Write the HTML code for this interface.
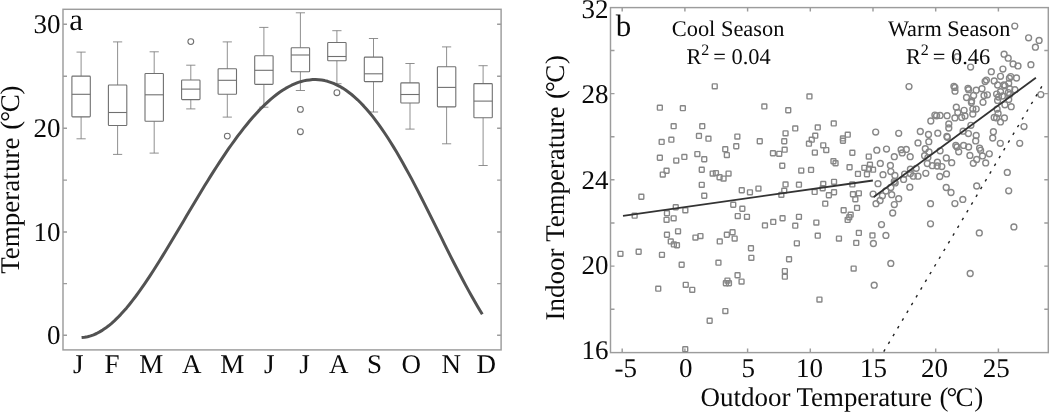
<!DOCTYPE html>
<html><head><meta charset="utf-8"><title>chart</title><style>html,body{margin:0;padding:0;background:#fff}svg{display:block}text{font-family:"Liberation Serif",serif;fill:#0a0a0a;text-rendering:geometricPrecision}svg{will-change:transform}</style></head><body>
<svg width="1050" height="412" viewBox="0 0 1050 412">
<rect width="1050" height="412" fill="#fff"/>
<g fill="none" stroke="#9c9c9c" stroke-width="1.45">
<rect x="63.0" y="9.3" width="438.1" height="340.6"/>
<path d="M63.0 24.15h4M501.1 24.15h-4"/>
<path d="M63.0 76.2h4M501.1 76.2h-4"/>
<path d="M63.0 128.2h4M501.1 128.2h-4"/>
<path d="M63.0 180.1h4M501.1 180.1h-4"/>
<path d="M63.0 232.05h4M501.1 232.05h-4"/>
<path d="M63.0 283.6h4M501.1 283.6h-4"/>
<path d="M63.0 335.3h4M501.1 335.3h-4"/>
</g>
<g fill="none" stroke="#707070" stroke-width="1.1">
<path d="M76.5 52.1h9.2M81.1 52.1V76.1M81.1 116.9V138.8M76.5 138.8h9.2" stroke-width="0.85" stroke="#7c7c7c"/>
<rect x="71.9" y="76.1" width="18.4" height="40.8" rx="0.8"/>
<path d="M71.9 94.3h18.4"/>
<path d="M113.0 41.9h9.2M117.6 41.9V85.0M117.6 125.5V154.4M113.0 154.4h9.2" stroke-width="0.85" stroke="#7c7c7c"/>
<rect x="108.4" y="85.0" width="18.4" height="40.5" rx="0.8"/>
<path d="M108.4 112.5h18.4"/>
<path d="M149.6 51.8h9.2M154.2 51.8V73.5M154.2 121.3V153.1M149.6 153.1h9.2" stroke-width="0.85" stroke="#7c7c7c"/>
<rect x="145.0" y="73.5" width="18.4" height="47.8" rx="0.8"/>
<path d="M145.0 94.8h18.4"/>
<path d="M186.2 65.2h9.2M190.8 65.2V80.0M190.8 99.6V108.9M186.2 108.9h9.2" stroke-width="0.85" stroke="#7c7c7c"/>
<rect x="181.6" y="80.0" width="18.4" height="19.6" rx="0.8"/>
<path d="M181.6 89.1h18.4"/>
<circle cx="190.8" cy="41.6" r="2.9"/>
<path d="M222.7 41.9h9.2M227.3 41.9V68.8M227.3 94.2V117.1M222.7 117.1h9.2" stroke-width="0.85" stroke="#7c7c7c"/>
<rect x="218.1" y="68.8" width="18.4" height="25.4" rx="0.8"/>
<path d="M218.1 80.3h18.4"/>
<circle cx="227.3" cy="136.1" r="2.9"/>
<path d="M259.2 27.4h9.2M263.9 27.4V55.7M263.9 84.4V107.2M259.2 107.2h9.2" stroke-width="0.85" stroke="#7c7c7c"/>
<rect x="254.7" y="55.7" width="18.4" height="28.7" rx="0.8"/>
<path d="M254.7 70.3h18.4"/>
<path d="M295.8 12.8h9.2M300.4 12.8V47.7M300.4 71.7V90.5M295.8 90.5h9.2" stroke-width="0.85" stroke="#7c7c7c"/>
<rect x="291.2" y="47.7" width="18.4" height="24.0" rx="0.8"/>
<path d="M291.2 55.0h18.4"/>
<circle cx="300.4" cy="109.4" r="2.9"/>
<circle cx="300.4" cy="131.7" r="2.9"/>
<path d="M332.3 30.7h9.2M336.9 30.7V42.5M336.9 60.8V83.7M332.3 83.7h9.2" stroke-width="0.85" stroke="#7c7c7c"/>
<rect x="327.7" y="42.5" width="18.4" height="18.3" rx="0.8"/>
<path d="M327.7 56.5h18.4"/>
<circle cx="336.9" cy="92.7" r="2.9"/>
<path d="M368.9 38.5h9.2M373.5 38.5V57.1M373.5 81.6V112.0M368.9 112.0h9.2" stroke-width="0.85" stroke="#7c7c7c"/>
<rect x="364.3" y="57.1" width="18.4" height="24.5" rx="0.8"/>
<path d="M364.3 73.8h18.4"/>
<path d="M405.4 63.5h9.2M410.0 63.5V82.9M410.0 103.0V129.1M405.4 129.1h9.2" stroke-width="0.85" stroke="#7c7c7c"/>
<rect x="400.8" y="82.9" width="18.4" height="20.1" rx="0.8"/>
<path d="M400.8 94.5h18.4"/>
<path d="M442.0 46.9h9.2M446.6 46.9V66.7M446.6 106.9V143.8M442.0 143.8h9.2" stroke-width="0.85" stroke="#7c7c7c"/>
<rect x="437.4" y="66.7" width="18.4" height="40.2" rx="0.8"/>
<path d="M437.4 87.4h18.4"/>
<path d="M478.5 65.7h9.2M483.1 65.7V83.6M483.1 117.8V165.5M478.5 165.5h9.2" stroke-width="0.85" stroke="#7c7c7c"/>
<rect x="473.9" y="83.6" width="18.4" height="34.2" rx="0.8"/>
<path d="M473.9 101.1h18.4"/>
</g>
<path d="M81.6 337.5 L84.6 337.2 L87.6 336.7 L90.6 335.9 L93.6 334.8 L96.6 333.5 L99.6 331.9 L102.6 330.1 L105.6 328.1 L108.6 325.8 L111.6 323.3 L114.6 320.6 L117.6 317.7 L120.6 314.6 L123.6 311.3 L126.6 307.9 L129.6 304.2 L132.6 300.4 L135.6 296.5 L138.6 292.4 L141.6 288.2 L144.6 283.9 L147.6 279.4 L150.6 274.9 L153.6 270.3 L156.6 265.5 L159.6 260.8 L162.6 255.9 L165.6 251.0 L168.6 246.0 L171.6 241.0 L174.6 236.0 L177.6 231.0 L180.6 225.9 L183.6 220.9 L186.6 215.8 L189.6 210.7 L192.6 205.7 L195.6 200.7 L198.6 195.7 L201.6 190.7 L204.6 185.8 L207.6 181.0 L210.6 176.1 L213.6 171.4 L216.6 166.7 L219.6 162.1 L222.6 157.6 L225.6 153.1 L228.6 148.7 L231.6 144.5 L234.6 140.3 L237.6 136.2 L240.6 132.3 L243.6 128.4 L246.6 124.7 L249.6 121.0 L252.6 117.5 L255.6 114.2 L258.6 110.9 L261.6 107.8 L264.6 104.9 L267.6 102.1 L270.6 99.4 L273.6 96.9 L276.6 94.5 L279.6 92.3 L282.6 90.3 L285.6 88.4 L288.6 86.8 L291.6 85.2 L294.6 83.9 L297.6 82.7 L300.6 81.7 L303.6 80.9 L306.6 80.3 L309.6 79.9 L312.6 79.6 L315.6 79.6 L318.6 79.7 L321.6 80.1 L324.6 80.6 L327.6 81.3 L330.6 82.3 L333.6 83.4 L336.6 84.8 L339.6 86.3 L342.6 88.1 L345.6 90.0 L348.6 92.2 L351.6 94.5 L354.6 97.1 L357.6 99.8 L360.6 102.8 L363.6 105.9 L366.6 109.2 L369.6 112.7 L372.6 116.4 L375.6 120.3 L378.6 124.4 L381.6 128.6 L384.6 133.0 L387.6 137.5 L390.6 142.2 L393.6 147.1 L396.6 152.1 L399.6 157.2 L402.6 162.5 L405.6 167.9 L408.6 173.4 L411.6 178.9 L414.6 184.6 L417.6 190.4 L420.6 196.2 L423.6 202.1 L426.6 208.1 L429.6 214.1 L432.6 220.1 L435.6 226.1 L438.6 232.2 L441.6 238.2 L444.6 244.3 L447.6 250.3 L450.6 256.3 L453.6 262.2 L456.6 268.0 L459.6 273.8 L462.6 279.5 L465.6 285.1 L468.6 290.6 L471.6 296.0 L474.6 301.3 L477.6 306.5 L480.6 311.5 L482.3 314.3" fill="none" stroke="#525252" stroke-width="3" stroke-linejoin="round"/>
<text x="60.6" y="33.0" font-size="27" text-anchor="end">30</text>
<text x="60.6" y="137.0" font-size="27" text-anchor="end">20</text>
<text x="60.6" y="240.8" font-size="27" text-anchor="end">10</text>
<text x="60.6" y="343.9" font-size="27" text-anchor="end">0</text>
<text x="78.2" y="372.9" font-size="27" text-anchor="middle">J</text>
<text x="112" y="372.9" font-size="27" text-anchor="middle">F</text>
<text x="151.2" y="372.9" font-size="27" text-anchor="middle">M</text>
<text x="191.8" y="372.9" font-size="27" text-anchor="middle">A</text>
<text x="232.3" y="372.9" font-size="27" text-anchor="middle">M</text>
<text x="269.2" y="372.9" font-size="27" text-anchor="middle">J</text>
<text x="304.5" y="372.9" font-size="27" text-anchor="middle">J</text>
<text x="338.8" y="372.9" font-size="27" text-anchor="middle">A</text>
<text x="374.6" y="372.9" font-size="27" text-anchor="middle">S</text>
<text x="411.2" y="372.9" font-size="27" text-anchor="middle">O</text>
<text x="451.2" y="372.9" font-size="27" text-anchor="middle">N</text>
<text x="486.2" y="372.9" font-size="27" text-anchor="middle">D</text>
<text x="69.3" y="29.7" font-size="31">a</text>
<g transform="translate(19.2 273.3) rotate(-90)" id="yl1"><text x="-0.5" y="0" font-size="27" textLength="136.2" lengthAdjust="spacingAndGlyphs">Temperature</text><text x="143.5" y="0" font-size="27">(</text><text x="151.5" y="0" font-size="27">°</text><text x="161.1" y="0" font-size="27">C</text><text x="178.9" y="0" font-size="27">)</text></g>
<g fill="none" stroke="#9c9c9c" stroke-width="1.45">
<rect x="610.5" y="7.6" width="437.8" height="345.0"/>
<path d="M610.5 309.2h4M1048.3 309.2h-4"/>
<path d="M610.5 266.1h4M1048.3 266.1h-4"/>
<path d="M610.5 222.9h4M1048.3 222.9h-4"/>
<path d="M610.5 179.8h4M1048.3 179.8h-4"/>
<path d="M610.5 136.7h4M1048.3 136.7h-4"/>
<path d="M610.5 93.6h4M1048.3 93.6h-4"/>
<path d="M610.5 50.5h4M1048.3 50.5h-4"/>
<path d="M622.2 7.6v4M622.2 352.6v-4"/>
<path d="M684.9 7.6v4M684.9 352.6v-4"/>
<path d="M747.6 7.6v4M747.6 352.6v-4"/>
<path d="M810.3 7.6v4M810.3 352.6v-4"/>
<path d="M873.0 7.6v4M873.0 352.6v-4"/>
<path d="M935.7 7.6v4M935.7 352.6v-4"/>
<path d="M998.4 7.6v4M998.4 352.6v-4"/>
</g>
<g fill="none" stroke="#878787" stroke-width="1.4">
<rect x="712.3" y="83.9" width="4.9" height="4.9" rx="0.6"/>
<rect x="657.4" y="105.2" width="4.9" height="4.9" rx="0.6"/>
<rect x="680.4" y="105.7" width="4.9" height="4.9" rx="0.6"/>
<rect x="761.9" y="104.0" width="4.9" height="4.9" rx="0.6"/>
<rect x="785.8" y="107.8" width="4.9" height="4.9" rx="0.6"/>
<rect x="807.0" y="94.0" width="4.9" height="4.9" rx="0.6"/>
<rect x="671.2" y="123.7" width="4.9" height="4.9" rx="0.6"/>
<rect x="699.8" y="123.7" width="4.9" height="4.9" rx="0.6"/>
<rect x="792.8" y="126.0" width="4.9" height="4.9" rx="0.6"/>
<rect x="815.3" y="125.0" width="4.9" height="4.9" rx="0.6"/>
<rect x="783.1" y="130.9" width="4.9" height="4.9" rx="0.6"/>
<rect x="812.8" y="133.2" width="4.9" height="4.9" rx="0.6"/>
<rect x="696.5" y="133.5" width="4.9" height="4.9" rx="0.6"/>
<rect x="734.9" y="134.1" width="4.9" height="4.9" rx="0.6"/>
<rect x="706.0" y="136.2" width="4.9" height="4.9" rx="0.6"/>
<rect x="668.9" y="137.2" width="4.9" height="4.9" rx="0.6"/>
<rect x="659.2" y="139.5" width="4.9" height="4.9" rx="0.6"/>
<rect x="757.3" y="138.8" width="4.9" height="4.9" rx="0.6"/>
<rect x="781.8" y="138.8" width="4.9" height="4.9" rx="0.6"/>
<rect x="809.3" y="137.2" width="4.9" height="4.9" rx="0.6"/>
<rect x="657.4" y="155.3" width="4.9" height="4.9" rx="0.6"/>
<rect x="673.8" y="158.1" width="4.9" height="4.9" rx="0.6"/>
<rect x="681.9" y="154.5" width="4.9" height="4.9" rx="0.6"/>
<rect x="694.9" y="151.6" width="4.9" height="4.9" rx="0.6"/>
<rect x="701.8" y="156.8" width="4.9" height="4.9" rx="0.6"/>
<rect x="722.8" y="146.8" width="4.9" height="4.9" rx="0.6"/>
<rect x="724.4" y="152.6" width="4.9" height="4.9" rx="0.6"/>
<rect x="770.5" y="150.8" width="4.9" height="4.9" rx="0.6"/>
<rect x="776.8" y="151.4" width="4.9" height="4.9" rx="0.6"/>
<rect x="782.2" y="147.2" width="4.9" height="4.9" rx="0.6"/>
<rect x="812.4" y="150.1" width="4.9" height="4.9" rx="0.6"/>
<rect x="664.1" y="168.3" width="4.9" height="4.9" rx="0.6"/>
<rect x="660.3" y="172.1" width="4.9" height="4.9" rx="0.6"/>
<rect x="699.3" y="167.3" width="4.9" height="4.9" rx="0.6"/>
<rect x="710.2" y="171.1" width="4.9" height="4.9" rx="0.6"/>
<rect x="713.5" y="170.6" width="4.9" height="4.9" rx="0.6"/>
<rect x="717.1" y="174.8" width="4.9" height="4.9" rx="0.6"/>
<rect x="721.1" y="176.1" width="4.9" height="4.9" rx="0.6"/>
<rect x="726.1" y="171.1" width="4.9" height="4.9" rx="0.6"/>
<rect x="779.8" y="163.3" width="4.9" height="4.9" rx="0.6"/>
<rect x="798.8" y="168.1" width="4.9" height="4.9" rx="0.6"/>
<rect x="808.6" y="167.5" width="4.9" height="4.9" rx="0.6"/>
<rect x="699.3" y="182.4" width="4.9" height="4.9" rx="0.6"/>
<rect x="701.8" y="193.3" width="4.9" height="4.9" rx="0.6"/>
<rect x="638.9" y="194.3" width="4.9" height="4.9" rx="0.6"/>
<rect x="739.3" y="187.8" width="4.9" height="4.9" rx="0.6"/>
<rect x="747.5" y="189.9" width="4.9" height="4.9" rx="0.6"/>
<rect x="756.0" y="186.1" width="4.9" height="4.9" rx="0.6"/>
<rect x="783.1" y="182.0" width="4.9" height="4.9" rx="0.6"/>
<rect x="796.5" y="182.2" width="4.9" height="4.9" rx="0.6"/>
<rect x="820.2" y="185.8" width="4.9" height="4.9" rx="0.6"/>
<rect x="781.8" y="188.2" width="4.9" height="4.9" rx="0.6"/>
<rect x="778.9" y="192.4" width="4.9" height="4.9" rx="0.6"/>
<rect x="812.2" y="189.5" width="4.9" height="4.9" rx="0.6"/>
<rect x="730.8" y="202.3" width="4.9" height="4.9" rx="0.6"/>
<rect x="673.3" y="204.8" width="4.9" height="4.9" rx="0.6"/>
<rect x="682.9" y="207.9" width="4.9" height="4.9" rx="0.6"/>
<rect x="664.5" y="210.8" width="4.9" height="4.9" rx="0.6"/>
<rect x="632.2" y="213.2" width="4.9" height="4.9" rx="0.6"/>
<rect x="739.9" y="206.3" width="4.9" height="4.9" rx="0.6"/>
<rect x="735.3" y="213.6" width="4.9" height="4.9" rx="0.6"/>
<rect x="744.5" y="214.4" width="4.9" height="4.9" rx="0.6"/>
<rect x="664.1" y="217.4" width="4.9" height="4.9" rx="0.6"/>
<rect x="671.2" y="215.9" width="4.9" height="4.9" rx="0.6"/>
<rect x="780.1" y="215.8" width="4.9" height="4.9" rx="0.6"/>
<rect x="796.5" y="214.4" width="4.9" height="4.9" rx="0.6"/>
<rect x="770.8" y="219.5" width="4.9" height="4.9" rx="0.6"/>
<rect x="762.5" y="223.0" width="4.9" height="4.9" rx="0.6"/>
<rect x="792.8" y="223.2" width="4.9" height="4.9" rx="0.6"/>
<rect x="813.9" y="220.1" width="4.9" height="4.9" rx="0.6"/>
<rect x="664.5" y="232.3" width="4.9" height="4.9" rx="0.6"/>
<rect x="668.3" y="239.0" width="4.9" height="4.9" rx="0.6"/>
<rect x="671.4" y="242.0" width="4.9" height="4.9" rx="0.6"/>
<rect x="674.5" y="242.8" width="4.9" height="4.9" rx="0.6"/>
<rect x="693.0" y="235.1" width="4.9" height="4.9" rx="0.6"/>
<rect x="698.0" y="233.6" width="4.9" height="4.9" rx="0.6"/>
<rect x="717.3" y="239.0" width="4.9" height="4.9" rx="0.6"/>
<rect x="724.4" y="232.3" width="4.9" height="4.9" rx="0.6"/>
<rect x="732.2" y="236.1" width="4.9" height="4.9" rx="0.6"/>
<rect x="748.5" y="245.8" width="4.9" height="4.9" rx="0.6"/>
<rect x="748.9" y="255.4" width="4.9" height="4.9" rx="0.6"/>
<rect x="794.4" y="240.9" width="4.9" height="4.9" rx="0.6"/>
<rect x="815.3" y="233.2" width="4.9" height="4.9" rx="0.6"/>
<rect x="618.0" y="251.4" width="4.9" height="4.9" rx="0.6"/>
<rect x="636.2" y="249.3" width="4.9" height="4.9" rx="0.6"/>
<rect x="659.5" y="252.4" width="4.9" height="4.9" rx="0.6"/>
<rect x="679.2" y="262.3" width="4.9" height="4.9" rx="0.6"/>
<rect x="716.0" y="260.2" width="4.9" height="4.9" rx="0.6"/>
<rect x="786.6" y="256.8" width="4.9" height="4.9" rx="0.6"/>
<rect x="782.4" y="268.6" width="4.9" height="4.9" rx="0.6"/>
<rect x="782.4" y="274.2" width="4.9" height="4.9" rx="0.6"/>
<rect x="735.1" y="272.8" width="4.9" height="4.9" rx="0.6"/>
<rect x="739.1" y="279.1" width="4.9" height="4.9" rx="0.6"/>
<rect x="725.0" y="278.1" width="4.9" height="4.9" rx="0.6"/>
<rect x="723.4" y="280.8" width="4.9" height="4.9" rx="0.6"/>
<rect x="726.5" y="280.8" width="4.9" height="4.9" rx="0.6"/>
<rect x="683.3" y="282.4" width="4.9" height="4.9" rx="0.6"/>
<rect x="689.8" y="287.4" width="4.9" height="4.9" rx="0.6"/>
<rect x="655.8" y="286.2" width="4.9" height="4.9" rx="0.6"/>
<rect x="817.0" y="297.1" width="4.9" height="4.9" rx="0.6"/>
<rect x="722.9" y="308.6" width="4.9" height="4.9" rx="0.6"/>
<rect x="707.2" y="318.3" width="4.9" height="4.9" rx="0.6"/>
<rect x="682.8" y="346.8" width="4.9" height="4.9" rx="0.6"/>
<rect x="831.3" y="121.0" width="4.9" height="4.9" rx="0.6"/>
<rect x="845.3" y="132.2" width="4.9" height="4.9" rx="0.6"/>
<rect x="840.5" y="136.0" width="4.9" height="4.9" rx="0.6"/>
<rect x="840.5" y="138.3" width="4.9" height="4.9" rx="0.6"/>
<rect x="836.5" y="236.1" width="4.9" height="4.9" rx="0.6"/>
<rect x="870.0" y="233.0" width="4.9" height="4.9" rx="0.6"/>
<rect x="853.8" y="240.5" width="4.9" height="4.9" rx="0.6"/>
<rect x="851.2" y="266.1" width="4.9" height="4.9" rx="0.6"/>
<rect x="849.9" y="150.3" width="4.9" height="4.9" rx="0.6"/>
<rect x="866.3" y="154.1" width="4.9" height="4.9" rx="0.6"/>
<rect x="831.0" y="158.8" width="4.9" height="4.9" rx="0.6"/>
<rect x="833.1" y="160.8" width="4.9" height="4.9" rx="0.6"/>
<rect x="847.1" y="164.8" width="4.9" height="4.9" rx="0.6"/>
<rect x="861.9" y="165.4" width="4.9" height="4.9" rx="0.6"/>
<rect x="867.5" y="162.2" width="4.9" height="4.9" rx="0.6"/>
<rect x="866.5" y="166.3" width="4.9" height="4.9" rx="0.6"/>
<rect x="870.6" y="167.2" width="4.9" height="4.9" rx="0.6"/>
<rect x="855.5" y="171.5" width="4.9" height="4.9" rx="0.6"/>
<rect x="864.5" y="171.8" width="4.9" height="4.9" rx="0.6"/>
<rect x="831.6" y="179.4" width="4.9" height="4.9" rx="0.6"/>
<rect x="849.9" y="182.0" width="4.9" height="4.9" rx="0.6"/>
<rect x="831.6" y="189.8" width="4.9" height="4.9" rx="0.6"/>
<rect x="850.5" y="191.8" width="4.9" height="4.9" rx="0.6"/>
<rect x="856.4" y="190.9" width="4.9" height="4.9" rx="0.6"/>
<rect x="852.9" y="196.8" width="4.9" height="4.9" rx="0.6"/>
<rect x="854.6" y="205.5" width="4.9" height="4.9" rx="0.6"/>
<rect x="841.2" y="207.8" width="4.9" height="4.9" rx="0.6"/>
<rect x="848.2" y="212.2" width="4.9" height="4.9" rx="0.6"/>
<rect x="846.8" y="214.8" width="4.9" height="4.9" rx="0.6"/>
<rect x="845.2" y="217.5" width="4.9" height="4.9" rx="0.6"/>
<rect x="856.4" y="230.5" width="4.9" height="4.9" rx="0.6"/>
<rect x="806.5" y="141.2" width="4.9" height="4.9" rx="0.6"/>
<rect x="820.8" y="142.9" width="4.9" height="4.9" rx="0.6"/>
<rect x="733.8" y="143.8" width="4.9" height="4.9" rx="0.6"/>
<rect x="823.8" y="147.6" width="4.9" height="4.9" rx="0.6"/>
<rect x="820.8" y="181.5" width="4.9" height="4.9" rx="0.6"/>
<rect x="826.4" y="192.8" width="4.9" height="4.9" rx="0.6"/>
<rect x="822.8" y="201.2" width="4.9" height="4.9" rx="0.6"/>
<rect x="675.6" y="228.9" width="4.9" height="4.9" rx="0.6"/>
<rect x="730.1" y="229.8" width="4.9" height="4.9" rx="0.6"/>
<circle cx="1014.8" cy="26.1" r="2.95"/>
<circle cx="1028.6" cy="37.8" r="2.95"/>
<circle cx="1039.1" cy="40.4" r="2.95"/>
<circle cx="1035.4" cy="47.2" r="2.95"/>
<circle cx="1004.1" cy="54.2" r="2.95"/>
<circle cx="1008.2" cy="58.2" r="2.95"/>
<circle cx="957.2" cy="56.7" r="2.95"/>
<circle cx="909.0" cy="86.6" r="2.95"/>
<circle cx="875.7" cy="132.1" r="2.95"/>
<circle cx="898.7" cy="133.3" r="2.95"/>
<circle cx="1013.1" cy="63.9" r="2.95"/>
<circle cx="1018.0" cy="65.9" r="2.95"/>
<circle cx="1030.9" cy="64.7" r="2.95"/>
<circle cx="970.6" cy="67.1" r="2.95"/>
<circle cx="1002.9" cy="69.1" r="2.95"/>
<circle cx="991.3" cy="71.7" r="2.95"/>
<circle cx="1000.5" cy="76.3" r="2.95"/>
<circle cx="1010.7" cy="76.6" r="2.95"/>
<circle cx="1009.4" cy="78.2" r="2.95"/>
<circle cx="1016.5" cy="78.0" r="2.95"/>
<circle cx="986.4" cy="80.1" r="2.95"/>
<circle cx="985.1" cy="81.5" r="2.95"/>
<circle cx="994.2" cy="80.9" r="2.95"/>
<circle cx="1008.7" cy="83.3" r="2.95"/>
<circle cx="997.6" cy="85.0" r="2.95"/>
<circle cx="1003.9" cy="84.9" r="2.95"/>
<circle cx="1005.0" cy="85.8" r="2.95"/>
<circle cx="1009.7" cy="88.7" r="2.95"/>
<circle cx="1014.9" cy="89.7" r="2.95"/>
<circle cx="953.9" cy="86.3" r="2.95"/>
<circle cx="954.9" cy="87.4" r="2.95"/>
<circle cx="955.0" cy="91.2" r="2.95"/>
<circle cx="968.0" cy="88.3" r="2.95"/>
<circle cx="968.6" cy="89.7" r="2.95"/>
<circle cx="976.2" cy="90.2" r="2.95"/>
<circle cx="982.0" cy="88.7" r="2.95"/>
<circle cx="966.5" cy="97.5" r="2.95"/>
<circle cx="973.6" cy="95.5" r="2.95"/>
<circle cx="971.6" cy="100.9" r="2.95"/>
<circle cx="971.4" cy="102.5" r="2.95"/>
<circle cx="984.0" cy="95.5" r="2.95"/>
<circle cx="987.4" cy="94.8" r="2.95"/>
<circle cx="983.0" cy="102.3" r="2.95"/>
<circle cx="996.6" cy="94.1" r="2.95"/>
<circle cx="1000.5" cy="91.7" r="2.95"/>
<circle cx="998.5" cy="97.0" r="2.95"/>
<circle cx="1002.4" cy="96.0" r="2.95"/>
<circle cx="997.6" cy="100.4" r="2.95"/>
<circle cx="1008.3" cy="92.6" r="2.95"/>
<circle cx="1009.7" cy="94.6" r="2.95"/>
<circle cx="1008.7" cy="99.4" r="2.95"/>
<circle cx="1004.9" cy="104.8" r="2.95"/>
<circle cx="1011.2" cy="106.7" r="2.95"/>
<circle cx="956.3" cy="107.2" r="2.95"/>
<circle cx="957.8" cy="112.5" r="2.95"/>
<circle cx="964.1" cy="110.3" r="2.95"/>
<circle cx="965.0" cy="115.9" r="2.95"/>
<circle cx="954.9" cy="117.9" r="2.95"/>
<circle cx="961.7" cy="117.4" r="2.95"/>
<circle cx="972.8" cy="109.1" r="2.95"/>
<circle cx="976.2" cy="109.1" r="2.95"/>
<circle cx="972.8" cy="114.0" r="2.95"/>
<circle cx="997.1" cy="109.1" r="2.95"/>
<circle cx="998.1" cy="113.5" r="2.95"/>
<circle cx="994.2" cy="117.4" r="2.95"/>
<circle cx="996.6" cy="117.9" r="2.95"/>
<circle cx="1004.4" cy="117.9" r="2.95"/>
<circle cx="1040.8" cy="94.6" r="2.95"/>
<circle cx="970.9" cy="125.3" r="2.95"/>
<circle cx="963.1" cy="131.2" r="2.95"/>
<circle cx="968.4" cy="133.6" r="2.95"/>
<circle cx="976.2" cy="135.5" r="2.95"/>
<circle cx="975.7" cy="140.9" r="2.95"/>
<circle cx="993.4" cy="131.7" r="2.95"/>
<circle cx="992.7" cy="138.0" r="2.95"/>
<circle cx="1000.3" cy="143.3" r="2.95"/>
<circle cx="1024.0" cy="126.6" r="2.95"/>
<circle cx="1019.7" cy="143.3" r="2.95"/>
<circle cx="955.8" cy="145.4" r="2.95"/>
<circle cx="957.0" cy="147.0" r="2.95"/>
<circle cx="963.6" cy="145.4" r="2.95"/>
<circle cx="968.6" cy="147.0" r="2.95"/>
<circle cx="958.7" cy="151.8" r="2.95"/>
<circle cx="979.6" cy="148.2" r="2.95"/>
<circle cx="980.6" cy="150.3" r="2.95"/>
<circle cx="969.9" cy="155.4" r="2.95"/>
<circle cx="982.5" cy="155.9" r="2.95"/>
<circle cx="989.3" cy="153.8" r="2.95"/>
<circle cx="1000.5" cy="121.9" r="2.95"/>
<circle cx="951.7" cy="162.7" r="2.95"/>
<circle cx="973.3" cy="163.3" r="2.95"/>
<circle cx="976.7" cy="159.5" r="2.95"/>
<circle cx="985.7" cy="162.9" r="2.95"/>
<circle cx="1007.3" cy="172.4" r="2.95"/>
<circle cx="976.7" cy="186.0" r="2.95"/>
<circle cx="1008.7" cy="190.8" r="2.95"/>
<circle cx="954.9" cy="203.6" r="2.95"/>
<circle cx="962.8" cy="199.4" r="2.95"/>
<circle cx="1013.9" cy="226.9" r="2.95"/>
<circle cx="979.3" cy="232.9" r="2.95"/>
<circle cx="885.9" cy="235.4" r="2.95"/>
<circle cx="873.4" cy="243.5" r="2.95"/>
<circle cx="890.8" cy="263.4" r="2.95"/>
<circle cx="874.2" cy="285.2" r="2.95"/>
<circle cx="970.2" cy="273.5" r="2.95"/>
<circle cx="920.3" cy="131.5" r="2.95"/>
<circle cx="928.5" cy="134.4" r="2.95"/>
<circle cx="937.8" cy="133.2" r="2.95"/>
<circle cx="930.8" cy="121.0" r="2.95"/>
<circle cx="934.9" cy="115.1" r="2.95"/>
<circle cx="936.6" cy="115.8" r="2.95"/>
<circle cx="940.1" cy="115.4" r="2.95"/>
<circle cx="947.1" cy="115.7" r="2.95"/>
<circle cx="918.0" cy="142.9" r="2.95"/>
<circle cx="928.8" cy="141.7" r="2.95"/>
<circle cx="946.9" cy="136.5" r="2.95"/>
<circle cx="947.4" cy="137.3" r="2.95"/>
<circle cx="876.8" cy="150.2" r="2.95"/>
<circle cx="886.5" cy="149.1" r="2.95"/>
<circle cx="901.1" cy="149.7" r="2.95"/>
<circle cx="902.2" cy="152.9" r="2.95"/>
<circle cx="906.3" cy="149.4" r="2.95"/>
<circle cx="894.3" cy="156.7" r="2.95"/>
<circle cx="910.2" cy="156.7" r="2.95"/>
<circle cx="925.3" cy="148.7" r="2.95"/>
<circle cx="929.0" cy="152.0" r="2.95"/>
<circle cx="924.6" cy="155.7" r="2.95"/>
<circle cx="927.9" cy="157.6" r="2.95"/>
<circle cx="940.1" cy="150.8" r="2.95"/>
<circle cx="946.3" cy="158.0" r="2.95"/>
<circle cx="880.3" cy="163.4" r="2.95"/>
<circle cx="890.4" cy="165.4" r="2.95"/>
<circle cx="890.8" cy="171.6" r="2.95"/>
<circle cx="883.0" cy="174.7" r="2.95"/>
<circle cx="894.9" cy="175.5" r="2.95"/>
<circle cx="927.3" cy="163.6" r="2.95"/>
<circle cx="932.3" cy="165.7" r="2.95"/>
<circle cx="937.4" cy="162.2" r="2.95"/>
<circle cx="937.2" cy="166.0" r="2.95"/>
<circle cx="941.8" cy="166.6" r="2.95"/>
<circle cx="916.2" cy="168.3" r="2.95"/>
<circle cx="910.4" cy="169.2" r="2.95"/>
<circle cx="904.6" cy="174.1" r="2.95"/>
<circle cx="910.4" cy="173.5" r="2.95"/>
<circle cx="913.3" cy="176.2" r="2.95"/>
<circle cx="918.0" cy="176.2" r="2.95"/>
<circle cx="925.8" cy="173.3" r="2.95"/>
<circle cx="939.8" cy="176.5" r="2.95"/>
<circle cx="946.5" cy="173.9" r="2.95"/>
<circle cx="903.6" cy="179.4" r="2.95"/>
<circle cx="894.3" cy="181.4" r="2.95"/>
<circle cx="895.2" cy="182.9" r="2.95"/>
<circle cx="878.0" cy="183.7" r="2.95"/>
<circle cx="909.8" cy="187.2" r="2.95"/>
<circle cx="890.8" cy="187.5" r="2.95"/>
<circle cx="946.2" cy="187.5" r="2.95"/>
<circle cx="885.9" cy="191.0" r="2.95"/>
<circle cx="873.1" cy="194.1" r="2.95"/>
<circle cx="882.4" cy="195.8" r="2.95"/>
<circle cx="880.1" cy="200.5" r="2.95"/>
<circle cx="876.0" cy="203.7" r="2.95"/>
<circle cx="891.7" cy="194.7" r="2.95"/>
<circle cx="898.7" cy="198.7" r="2.95"/>
<circle cx="894.3" cy="204.6" r="2.95"/>
<circle cx="892.7" cy="213.0" r="2.95"/>
<circle cx="881.5" cy="224.6" r="2.95"/>
<circle cx="930.5" cy="203.7" r="2.95"/>
<circle cx="930.5" cy="223.8" r="2.95"/>
<circle cx="951.0" cy="192.5" r="2.95"/>
<circle cx="948.8" cy="123.9" r="2.95"/>
<circle cx="948.8" cy="128.0" r="2.95"/>
</g>
<path d="M623 215.8L872.9 180.5" stroke="#333" stroke-width="1.8" fill="none"/>
<path d="M873.7 197L1035.9 77.8" stroke="#333" stroke-width="1.8" fill="none"/>
<path d="M883.74 351.6L1041.9 86.2" stroke="#222" stroke-width="1.4" stroke-dasharray="2.6 6.407" fill="none"/>
<text x="608.4" y="18.1" font-size="27" text-anchor="end">32</text>
<text x="608.4" y="102.5" font-size="27" text-anchor="end">28</text>
<text x="608.4" y="189.0" font-size="27" text-anchor="end">24</text>
<text x="608.4" y="273.8" font-size="27" text-anchor="end">20</text>
<text x="608.4" y="358.7" font-size="27" text-anchor="end">16</text>
<text x="625.7" y="376.6" font-size="27" text-anchor="middle">-5</text>
<text x="685.75" y="376.6" font-size="27" text-anchor="middle">0</text>
<text x="748.2" y="376.6" font-size="27" text-anchor="middle">5</text>
<text x="809.5" y="376.6" font-size="27" text-anchor="middle">10</text>
<text x="873.4" y="376.6" font-size="27" text-anchor="middle">15</text>
<text x="934.5" y="376.6" font-size="27" text-anchor="middle">20</text>
<text x="996.3" y="376.6" font-size="27" text-anchor="middle">25</text>
<text x="615.8" y="35.9" font-size="31">b</text>
<text x="671.8" y="35.5" font-size="22.4" id="cs">Cool Season</text>
<text x="887.9" y="35.5" font-size="22.2" textLength="122.4" lengthAdjust="spacingAndGlyphs" id="ws">Warm Season</text>
<text x="686.4" y="63.6" font-size="22.4" id="r1">R<tspan font-size="16" dy="-9">2 </tspan><tspan dy="9">= 0.04</tspan></text>
<text x="905.9" y="63.6" font-size="22.4" id="r2">R<tspan font-size="16" dy="-9">2 </tspan><tspan dy="9">= 0.46</tspan></text>
<g transform="translate(0 406.1)" id="xl"><text x="700.6" y="0" font-size="27">Outdoor</text><text x="796.6" y="0" font-size="27" textLength="135.2" lengthAdjust="spacingAndGlyphs">Temperature</text><text x="939.4" y="0" font-size="27">(</text><text x="946.4" y="0" font-size="27">°</text><text x="955.6" y="0" font-size="27">C</text><text x="974.2" y="0" font-size="27">)</text></g>
<g transform="translate(564 319.9) rotate(-90)" id="yl2"><text x="-0.5" y="0" font-size="27">Indoor</text><text x="78.2" y="0" font-size="27" textLength="135.2" lengthAdjust="spacingAndGlyphs">Temperature</text><text x="221.0" y="0" font-size="27">(</text><text x="228.0" y="0" font-size="27">°</text><text x="237.2" y="0" font-size="27">C</text><text x="255.8" y="0" font-size="27">)</text></g>
</svg></body></html>
